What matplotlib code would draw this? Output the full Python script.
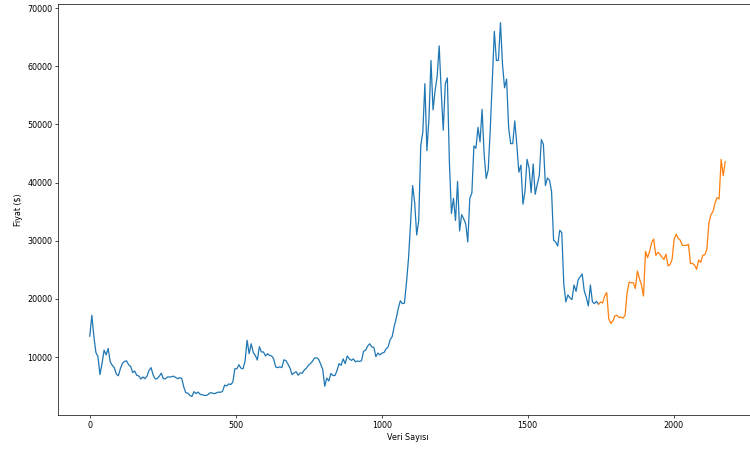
import matplotlib
matplotlib.use("Agg")
import matplotlib.pyplot as plt
import pandas as pd
import numpy as np

# Weekly (Monday) closing prices, starting 2018-01-01
price_2018 = [13600, 17200, 13600, 10800, 10100, 7000, 8900, 11200, 10400, 11500,
              9200, 8600, 8200, 7100, 6800, 8050, 8950, 9250, 9370, 8700,
              8400, 7360, 7620, 6880, 6770, 6250, 6600, 6300, 6740, 7720,
              8200, 6950, 6270, 6300, 6710, 7260, 6300, 6280, 6600, 6590,
              6620, 6740, 6520, 6300, 6480, 6370, 4870, 3880, 3820, 3420,
              3250, 4070, 3740]
price_2019 = [4000, 3630, 3540, 3430, 3410, 3600, 3900, 3830, 3720, 3880,
              4000, 3950, 4150, 5200, 5050, 5400, 5300, 5700, 8000, 8000,
              8700, 8100, 8000, 9300, 12900, 10600, 12300, 10800, 10300, 9500,
              11800, 10900, 10900, 10200, 10600, 10300, 10200, 9700, 8300, 8200,
              8350, 8200, 9550, 9400, 8800, 8100, 7000, 7300, 7500, 6900,
              7300, 7250]
price_2020 = [7800, 8100, 8600, 8900, 9300, 9850, 9900, 9650, 8800, 7900,
              5000, 6400, 5900, 7200, 6850, 6850, 7700, 8900, 8600, 9700,
              8900, 10200, 9700, 9450, 9700, 9200, 9350, 9250, 9400, 11000,
              11200, 11900, 12300, 11750, 11700, 10100, 10700, 10400, 10700, 10800,
              11400, 11750, 13000, 13550, 15300, 16700, 18400, 19700, 19200, 19300,
              22800, 27000]
price_2021 = [33000, 39500, 36600, 31000, 33500, 46400, 48700, 57000, 45500, 51000,
              61000, 52500, 55800, 58200, 63500, 55700, 49000, 57000, 58000, 43500,
              34700, 37300, 33500, 40200, 31700, 34500, 33800, 32900, 29800, 37300,
              38200, 46300, 45900, 49500, 47000, 52600, 44900, 40700, 42200, 49100,
              57400, 66000, 61000, 61000, 67500, 60300, 56300, 57800, 49400, 46700,
              46700, 50600]
price_2022_train = [46500, 41800, 43000, 36300, 38500, 44000, 42500, 38300, 43200, 38000,
                    39700, 41200, 47400, 46600, 39500, 40800, 40400, 38500, 30100, 29800,
                    29100, 31800, 31400, 22500, 19500, 20700, 20200, 19900, 22400, 21300,
                    23300, 23800, 24300, 21400, 20300, 18800, 22400, 19500, 19200, 19600,
                    19100]
# Test part (orange), weekly from 2022-10-10
price_test = [19100, 19500, 19300, 20500, 21100, 16600, 15800, 16200, 17100, 17200,
              16800, 16900, 16700, 17200, 21200, 22900, 22800, 22800, 21800, 24800,
              23500, 22400, 20500, 28200, 27100, 28200, 29700, 30300, 27500, 28000,
              27700, 27200, 26800, 27700, 25700, 25900, 26800, 30300, 31150, 30400,
              30100, 29200, 29200, 29200, 29400, 26100, 26100, 25800, 25100, 26700,
              26300, 27500, 27600, 28500, 33000, 34500, 35000, 36500, 37400, 37200,
              44000, 41200, 43600]

train = price_2018 + price_2019 + price_2020 + price_2021 + price_2022_train
start = pd.Timestamp("2018-01-01")
train_dates = pd.date_range(start, periods=len(train), freq="7D")
test_dates = pd.date_range(train_dates[-1], periods=len(price_test), freq="7D")
x_train = (train_dates - start).days.values
x_test = (test_dates - start).days.values

fig = plt.figure(figsize=(7.5, 4.5), dpi=100)
ax = fig.add_axes([58 / 750, 1 - 415 / 450, 699 / 750, (415 - 4) / 450])
ax.plot(x_train, train, color="#1f77b4", linewidth=0.9)
ax.plot(x_test, price_test, color="#ff7f0e", linewidth=0.9)

ax.set_ylim(60, 70700)
ax.set_xlabel("Veri Sayısı", fontsize=5.8, labelpad=2.5)
ax.set_ylabel("Fiyat ($)", fontsize=5.8, labelpad=3)
ax.tick_params(labelsize=5.8, length=2, width=0.5, pad=2)
for s in ax.spines.values():
    s.set_linewidth(0.5)

fig.savefig("out.png", dpi=100)
